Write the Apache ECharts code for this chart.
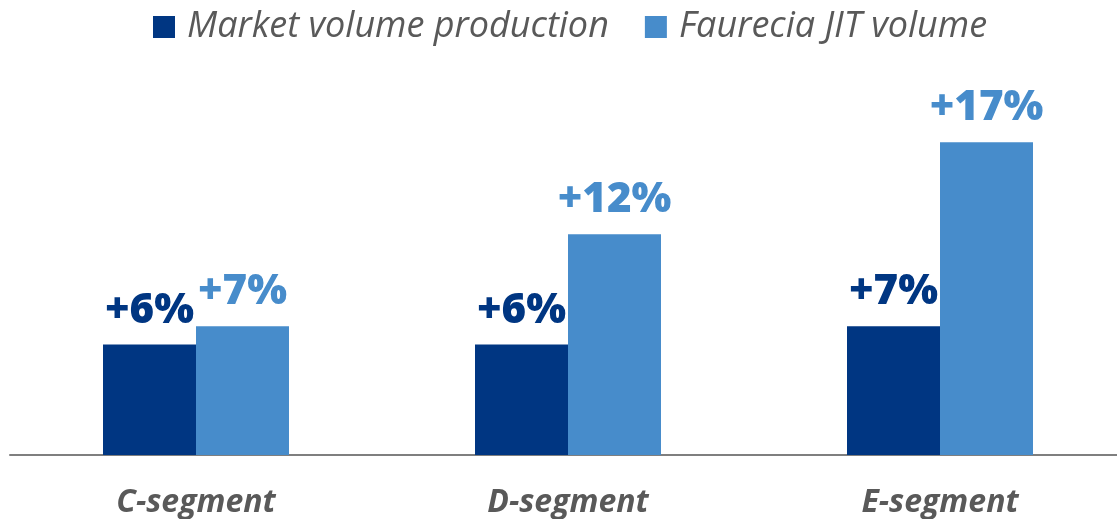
<!DOCTYPE html>
<html>
<head>
<meta charset="utf-8">
<script src="https://cdn.jsdelivr.net/npm/echarts@6/dist/echarts.min.js"></script>
<style>
  html, body { margin: 0; padding: 0; background: #ffffff; overflow: hidden; }
  #chart { width: 1126px; height: 519px; }
</style>
</head>
<body>
<div id="chart"></div>
<script>
// Segments and growth rates (%)
const categories = ['C-segment', 'D-segment', 'E-segment'];
const marketGrowth = [6, 6, 7];
const jitGrowth = [7, 12, 17];
const seriesNames = ['Market volume production', 'Faurecia JIT volume'];

const DARK = '#003682';
const LIGHT = '#478ccb';
const FONT = '"Open Sans", "Noto Sans", sans-serif';

const chart = echarts.init(document.getElementById('chart'));

function pctLabel(color) {
  return {
    show: true,
    position: 'top',
    distance: 13,
    formatter: p => '+' + p.value + '%',
    color: color,
    fontFamily: FONT,
    fontWeight: 800,
    fontSize: 42
  };
}

chart.setOption({
  animation: false,
  legend: {
    top: 4,
    left: 148,
    itemWidth: 22,
    itemHeight: 22,
    itemGap: 36,
    icon: 'rect',
    textStyle: {
      color: '#595959',
      fontFamily: FONT,
      fontStyle: 'italic',
      fontSize: 36,
      padding: [0, 0, 0, 7]
    },
    data: seriesNames
  },
  grid: { left: 10, right: 0, top: 87, bottom: 64 },
  xAxis: {
    type: 'category',
    data: categories,
    axisLine: { lineStyle: { color: '#7f7f7f', width: 2 } },
    axisTick: { show: false },
    axisLabel: {
      margin: 32,
      color: '#595959',
      fontFamily: FONT,
      fontStyle: 'italic',
      fontWeight: 'bold',
      fontSize: 32
    }
  },
  yAxis: {
    type: 'value',
    min: 0,
    max: 20,
    show: false,
    splitLine: { show: false }
  },
  series: [
    {
      name: seriesNames[0],
      type: 'bar',
      data: marketGrowth,
      barWidth: 93,
      barGap: '0%',
      itemStyle: { color: DARK },
      label: pctLabel(DARK)
    },
    {
      name: seriesNames[1],
      type: 'bar',
      data: jitGrowth,
      barWidth: 93,
      barGap: '0%',
      itemStyle: { color: LIGHT },
      label: pctLabel(LIGHT)
    }
  ]
});
</script>
</body>
</html>
